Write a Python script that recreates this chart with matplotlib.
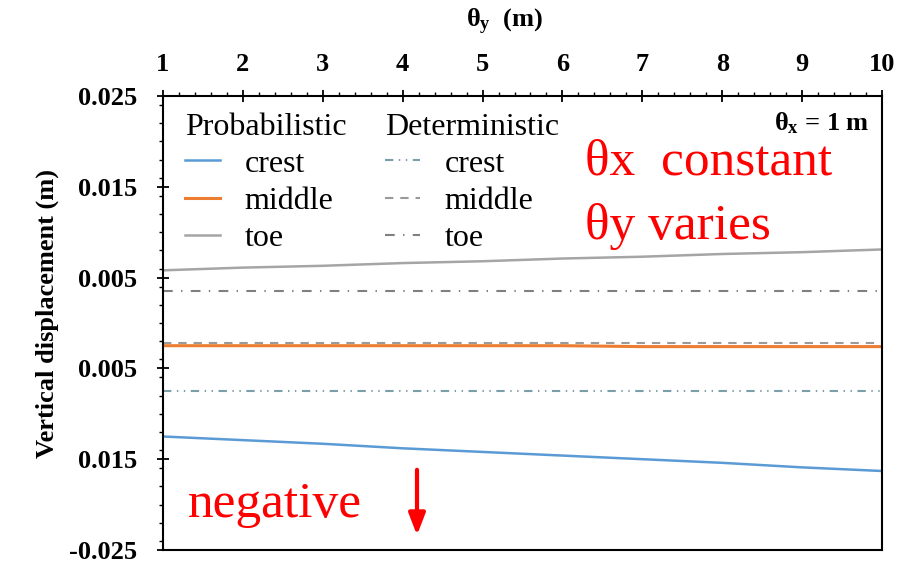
import matplotlib
matplotlib.use("Agg")
import matplotlib.pyplot as plt
from matplotlib.ticker import FixedLocator, MultipleLocator

plt.rcParams["font.family"] = ["Liberation Serif", "DejaVu Serif"]
plt.rcParams["mathtext.fontset"] = "custom"
plt.rcParams["mathtext.rm"] = "Liberation Serif"
plt.rcParams["mathtext.bf"] = "Liberation Serif:bold"
plt.rcParams["mathtext.it"] = "Liberation Serif:italic"
plt.rcParams["lines.scale_dashes"] = False

# data
theta_y = [1, 2, 3, 4, 5, 6, 7, 8, 9, 10]
prob_crest = [-0.0125, -0.0129, -0.0133, -0.0138, -0.0142, -0.0146, -0.0150, -0.0154, -0.0159, -0.0163]
prob_middle = [-0.0025, -0.0025, -0.0025, -0.0025, -0.0025, -0.0025, -0.0026, -0.0026, -0.0026, -0.0026]
prob_toe = [0.0058, 0.0061, 0.0063, 0.0066, 0.0068, 0.0071, 0.0073, 0.0076, 0.0078, 0.0081]
det_crest = [-0.0075] * 10
det_middle = [-0.0022] * 10
det_toe = [0.0035] * 10

y_ticks = [0.025, 0.015, 0.005, -0.005, -0.015, -0.025]
y_ticklabels = ["0.025", "0.015", "0.005", "0.005", "0.015", "-0.025"]
x_ticks = [1, 2, 3, 4, 5, 6, 7, 8, 9, 10]

fig = plt.figure(figsize=(9.12, 5.64), dpi=100)
ax = fig.add_axes([163 / 912, 1 - 550 / 564, 719 / 912, 454 / 564])

c_blue, c_orange, c_gray = "#5b9bd5", "#ed7d31", "#a5a5a5"

p1, = ax.plot(theta_y, prob_crest, color=c_blue, lw=1.8)
p2, = ax.plot(theta_y, prob_middle, color=c_orange, lw=2.2)
p3, = ax.plot(theta_y, prob_toe, color=c_gray, lw=1.8)
d1, = ax.plot(theta_y, det_crest, color="#7a9fab", lw=1.5, dashes=(6, 4, 1, 4, 1, 4))
d2, = ax.plot(theta_y, det_middle, color="#9a9a9a", lw=1.5, dashes=(6, 5))
d3, = ax.plot(theta_y, det_toe, color="#808080", lw=1.5, dashes=(7, 6, 1, 6))

ax.set_xlim(1, 10)
ax.set_ylim(-0.025, 0.025)

ax.xaxis.tick_top()
ax.xaxis.set_major_locator(FixedLocator(x_ticks))
ax.xaxis.set_minor_locator(MultipleLocator(0.2))
ax.set_xticklabels([str(v) for v in x_ticks], fontsize=19, fontweight="bold")
ax.yaxis.set_major_locator(FixedLocator(y_ticks))
ax.yaxis.set_minor_locator(MultipleLocator(0.002))
ax.set_yticklabels(y_ticklabels, fontsize=19, fontweight="bold")
ax.tick_params(which="major", direction="inout", length=9, width=1.3, pad=10)
ax.tick_params(axis="y", which="major", pad=14)
ax.tick_params(which="minor", direction="out", length=3, width=1)
for s in ax.spines.values():
    s.set_linewidth(1.5)

fig.text(505 / 912, 1 - 22 / 564, r"$\mathbf{\theta_y}$  (m)", fontsize=19,
         fontweight="bold", ha="center", va="center")
ax.set_ylabel("Vertical displacement (m)", fontsize=19, fontweight="bold")
ax.yaxis.set_label_coords(-0.145, 0.52)

leg_kw = dict(loc="upper left", frameon=False, fontsize=23, title_fontsize=23,
              alignment="left", handlelength=1.1, handletextpad=0.75,
              labelspacing=0.24, borderaxespad=0.15, borderpad=0.3)
leg1 = ax.legend([p1, p2, p3], ["crest", "middle", "toe"], title="Probabilistic",
                 bbox_to_anchor=(0.011, 0.995), **leg_kw)
ax.add_artist(leg1)
ax.legend([d1, d2, d3], ["crest", "middle", "toe"], title="Deterministic",
          bbox_to_anchor=(0.289, 0.995), **leg_kw)

ax.text(0.982, 0.94, r"$\mathbf{\theta_x}$ = 1 m", transform=ax.transAxes,
        fontsize=19, fontweight="bold", ha="right", va="center")

ax.text(585 / 912, 1 - 162 / 564, "θx  constant", transform=fig.transFigure,
        fontsize=37, color="red", ha="left", va="center")
ax.text(585 / 912, 1 - 226 / 564, "θy varies", transform=fig.transFigure,
        fontsize=37, color="red", ha="left", va="center")
ax.text(188 / 912, 1 - 505 / 564, "negative", transform=fig.transFigure,
        fontsize=37, color="red", ha="left", va="center")
fig.add_artist(matplotlib.patches.FancyArrowPatch(
    (417 / 912, 1 - 467 / 564), (417 / 912, 1 - 538 / 564),
    transform=fig.transFigure, arrowstyle="-|>,head_length=0.65,head_width=0.25",
    mutation_scale=20, color="red", lw=3))

fig.savefig("out.png", dpi=100, facecolor="white")
